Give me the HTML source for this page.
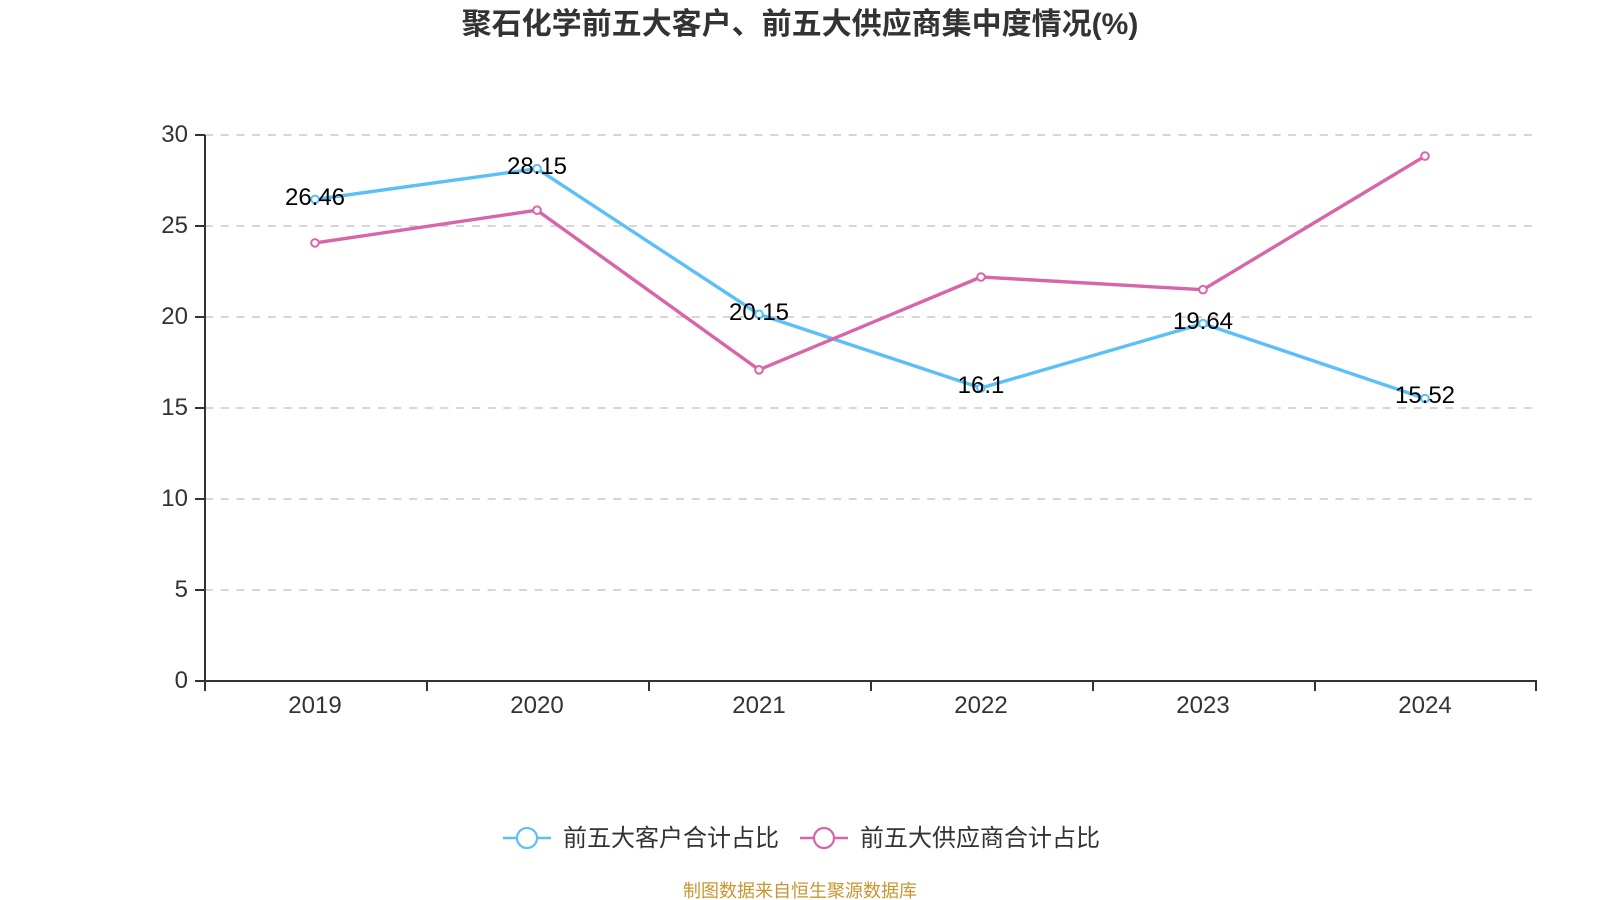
<!DOCTYPE html>
<html><head><meta charset="utf-8"><style>
html,body{margin:0;padding:0;background:#fff;}
svg{display:block;}
</style></head><body>
<svg width="1600" height="900" viewBox="0 0 1600 900" xmlns="http://www.w3.org/2000/svg">
<rect width="1600" height="900" fill="#fff"/>
<text x="800" y="34" text-anchor="middle" font-family="Liberation Sans, Noto Sans CJK SC, sans-serif" font-size="30" font-weight="bold" fill="#333">聚石化学前五大客户、前五大供应商集中度情况(%)</text>
<g stroke="#c8c8c8" stroke-width="1.5" stroke-dasharray="8,7.7">
<line x1="205" y1="135" x2="1536" y2="135"/>
<line x1="205" y1="226" x2="1536" y2="226"/>
<line x1="205" y1="317" x2="1536" y2="317"/>
<line x1="205" y1="408" x2="1536" y2="408"/>
<line x1="205" y1="499" x2="1536" y2="499"/>
<line x1="205" y1="590" x2="1536" y2="590"/>
</g>
<g stroke="#333" stroke-width="2" fill="none">
<line x1="205" y1="135" x2="205" y2="682"/>
<line x1="204" y1="681" x2="1537" y2="681"/>
<line x1="195" y1="135" x2="205" y2="135"/>
<line x1="195" y1="226" x2="205" y2="226"/>
<line x1="195" y1="317" x2="205" y2="317"/>
<line x1="195" y1="408" x2="205" y2="408"/>
<line x1="195" y1="499" x2="205" y2="499"/>
<line x1="195" y1="590" x2="205" y2="590"/>
<line x1="195" y1="681" x2="205" y2="681"/>
<line x1="205" y1="681" x2="205" y2="691"/>
<line x1="427" y1="681" x2="427" y2="691"/>
<line x1="649" y1="681" x2="649" y2="691"/>
<line x1="871" y1="681" x2="871" y2="691"/>
<line x1="1093" y1="681" x2="1093" y2="691"/>
<line x1="1315" y1="681" x2="1315" y2="691"/>
<line x1="1536" y1="681" x2="1536" y2="691"/>
</g>
<g font-family="Liberation Sans, sans-serif" font-size="24" fill="#333" text-anchor="end">
<text x="188" y="142">30</text>
<text x="188" y="233">25</text>
<text x="188" y="324">20</text>
<text x="188" y="415">15</text>
<text x="188" y="506">10</text>
<text x="188" y="597">5</text>
<text x="188" y="688">0</text>
</g>
<g font-family="Liberation Sans, sans-serif" font-size="24" fill="#333" text-anchor="middle">
<text x="315" y="713">2019</text>
<text x="537" y="713">2020</text>
<text x="759" y="713">2021</text>
<text x="981" y="713">2022</text>
<text x="1203" y="713">2023</text>
<text x="1425" y="713">2024</text>
</g>
<polyline points="315,199.4 537,168.7 759,314.3 981,388 1203,323.6 1425,398.5" fill="none" stroke="#5bc0f8" stroke-width="3.4" stroke-linejoin="round"/>
<polyline points="315,242.9 537,210.2 759,369.8 981,277 1203,289.7 1425,156.1" fill="none" stroke="#d865a8" stroke-width="3.4" stroke-linejoin="round"/>
<g fill="#fff" stroke="#5bc0f8" stroke-width="2">
<circle cx="315" cy="199.4" r="3.8"/><circle cx="537" cy="168.7" r="3.8"/><circle cx="759" cy="314.3" r="3.8"/>
<circle cx="981" cy="388" r="3.8"/><circle cx="1203" cy="323.6" r="3.8"/><circle cx="1425" cy="398.5" r="3.8"/>
</g>
<g fill="#fff" stroke="#d865a8" stroke-width="2">
<circle cx="315" cy="242.9" r="3.8"/><circle cx="537" cy="210.2" r="3.8"/><circle cx="759" cy="369.8" r="3.8"/>
<circle cx="981" cy="277" r="3.8"/><circle cx="1203" cy="289.7" r="3.8"/><circle cx="1425" cy="156.1" r="3.8"/>
</g>
<g font-family="Liberation Sans, sans-serif" font-size="24" fill="#000" text-anchor="middle">
<text x="315" y="205">26.46</text>
<text x="537" y="174">28.15</text>
<text x="759" y="320">20.15</text>
<text x="981" y="393">16.1</text>
<text x="1203" y="329">19.64</text>
<text x="1425" y="403">15.52</text>
</g>
<line x1="503" y1="838" x2="551" y2="838" stroke="#5bc0f8" stroke-width="2.5"/>
<circle cx="527" cy="838" r="10" fill="#fff" stroke="#5bc0f8" stroke-width="2.2"/>
<text x="563" y="846" font-family="Liberation Sans, Noto Sans CJK SC, sans-serif" font-size="24" fill="#333">前五大客户合计占比</text>
<line x1="800" y1="838" x2="848" y2="838" stroke="#d865a8" stroke-width="2.5"/>
<circle cx="824" cy="838" r="10" fill="#fff" stroke="#d865a8" stroke-width="2.2"/>
<text x="860" y="846" font-family="Liberation Sans, Noto Sans CJK SC, sans-serif" font-size="24" fill="#333">前五大供应商合计占比</text>
<text x="800" y="897" text-anchor="middle" font-family="Liberation Sans, Noto Sans CJK SC, sans-serif" font-size="18" fill="#c9962f">制图数据来自恒生聚源数据库</text>
</svg>
</body></html>
